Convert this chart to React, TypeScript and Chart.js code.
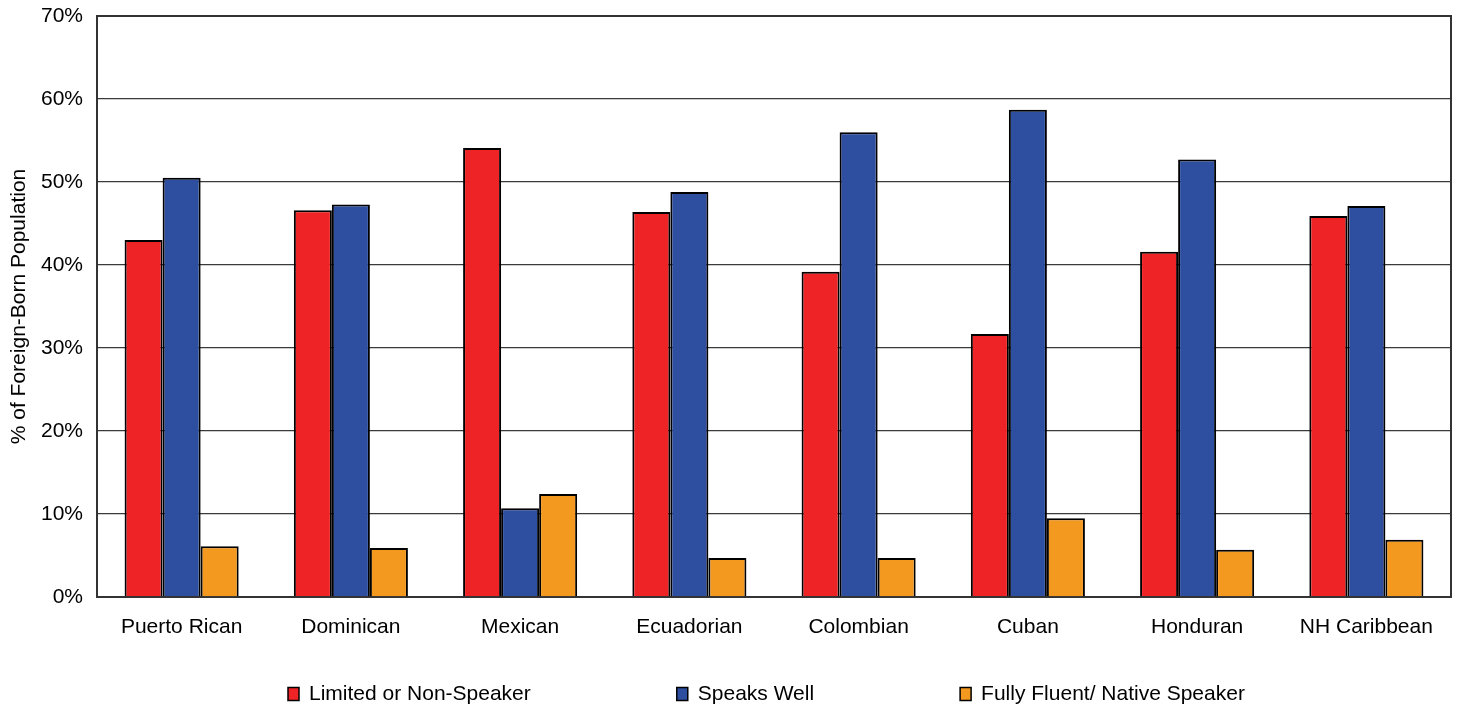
import React, { useEffect, useRef } from 'react';
import { Chart, registerables } from 'chart.js';

Chart.register(...registerables);

const categories = ['Puerto Rican', 'Dominican', 'Mexican', 'Ecuadorian', 'Colombian', 'Cuban', 'Honduran', 'NH Caribbean'];
const seriesLabels = ['Limited or Non-Speaker', 'Speaks Well', 'Fully Fluent/ Native Speaker'];
const limitedValues = [43.0, 46.6, 54.1, 46.4, 39.2, 31.7, 41.6, 45.9];
const speaksWellValues = [50.5, 47.3, 10.7, 48.8, 56.0, 58.7, 52.7, 47.1];
const fluentValues = [6.1, 5.9, 12.4, 4.7, 4.7, 9.5, 5.7, 6.9];
const seriesColors = ['#EE2325', '#2E4FA0', '#F4991F'];
const yTickValues = [0, 10, 20, 30, 40, 50, 60, 70];
const yTitle = '% of Foreign-Born Population';

const FONT = '"Liberation Sans", Arial, sans-serif';

const framePlugin = {
  id: 'frame',
  beforeDatasetsDraw(chart: any) {
    const { ctx, chartArea } = chart;
    ctx.save();
    ctx.strokeStyle = '#333333';
    ctx.lineWidth = 2;
    ctx.strokeRect(chartArea.left, chartArea.top, chartArea.right - chartArea.left, chartArea.bottom - chartArea.top);
    ctx.restore();
  },
};

const legendPlugin = {
  id: 'customLegend',
  afterDraw(chart: any) {
    const ctx = chart.ctx;
    ctx.save();
    ctx.font = '21px ' + FONT;
    ctx.textBaseline = 'middle';
    ctx.textAlign = 'left';
    const y = 694;
    let x = 288;
    chart.data.datasets.forEach((ds: any) => {
      ctx.fillStyle = ds.backgroundColor;
      ctx.fillRect(x, y - 6.5, 11, 13);
      ctx.strokeStyle = '#000';
      ctx.lineWidth = 1.5;
      ctx.strokeRect(x, y - 6.5, 11, 13);
      ctx.fillStyle = '#000';
      ctx.fillText(ds.label, x + 21, y);
      x += 21 + ctx.measureText(ds.label).width + 146;
    });
    ctx.restore();
  },
};

export default function App() {
  const ref = useRef<HTMLCanvasElement | null>(null);

  useEffect(() => {
    if (!ref.current) return;
    const valueSets = [limitedValues, speaksWellValues, fluentValues];
    const chart = new Chart(ref.current, {
      type: 'bar',
      data: {
        labels: categories,
        datasets: seriesLabels.map((label, i) => ({
          label,
          data: valueSets[i],
          backgroundColor: seriesColors[i],
          borderColor: '#000000',
          borderWidth: 2,
          categoryPercentage: 0.674,
          barPercentage: 1,
        })),
      },
      options: {
        responsive: false,
        animation: false,
        layout: { padding: { top: 16, right: 9, left: 0, bottom: 0 } },
        plugins: {
          legend: { display: false },
          tooltip: { enabled: false },
        },
        scales: {
          x: {
            grid: { display: false, drawTicks: false },
            border: { display: false },
            ticks: {
              color: '#000',
              font: { family: FONT, size: 21 },
              padding: 18,
              maxRotation: 0,
              autoSkip: false,
            },
            afterFit: (scale: any) => {
              scale.height = 111;
              scale.paddingLeft = 0;
              scale.paddingRight = 0;
            },
          },
          y: {
            min: 0,
            max: 70,
            afterBuildTicks: (scale: any) => {
              scale.ticks = yTickValues.map((v) => ({ value: v }));
            },
            grid: { color: '#3a3a3a', lineWidth: 1.3, drawTicks: false },
            border: { display: false },
            ticks: {
              color: '#000',
              font: { family: FONT, size: 21 },
              padding: 14,
              callback: (v: any) => v + '%',
            },
            title: {
              display: true,
              text: yTitle,
              color: '#000',
              font: { family: FONT, size: 21 },
              padding: { top: 7, bottom: 0 },
            },
            afterFit: (scale: any) => {
              scale.width = 97;
              scale.paddingTop = 0;
              scale.paddingBottom = 0;
            },
          },
        },
      },
      plugins: [framePlugin, legendPlugin],
    });
    return () => chart.destroy();
  }, []);

  return (
    <div style={{ position: 'fixed', left: 0, top: 0, width: 1460, height: 708, background: '#fff' }}>
      <canvas ref={ref} width={1460} height={708} style={{ display: 'block' }} />
    </div>
  );
}
